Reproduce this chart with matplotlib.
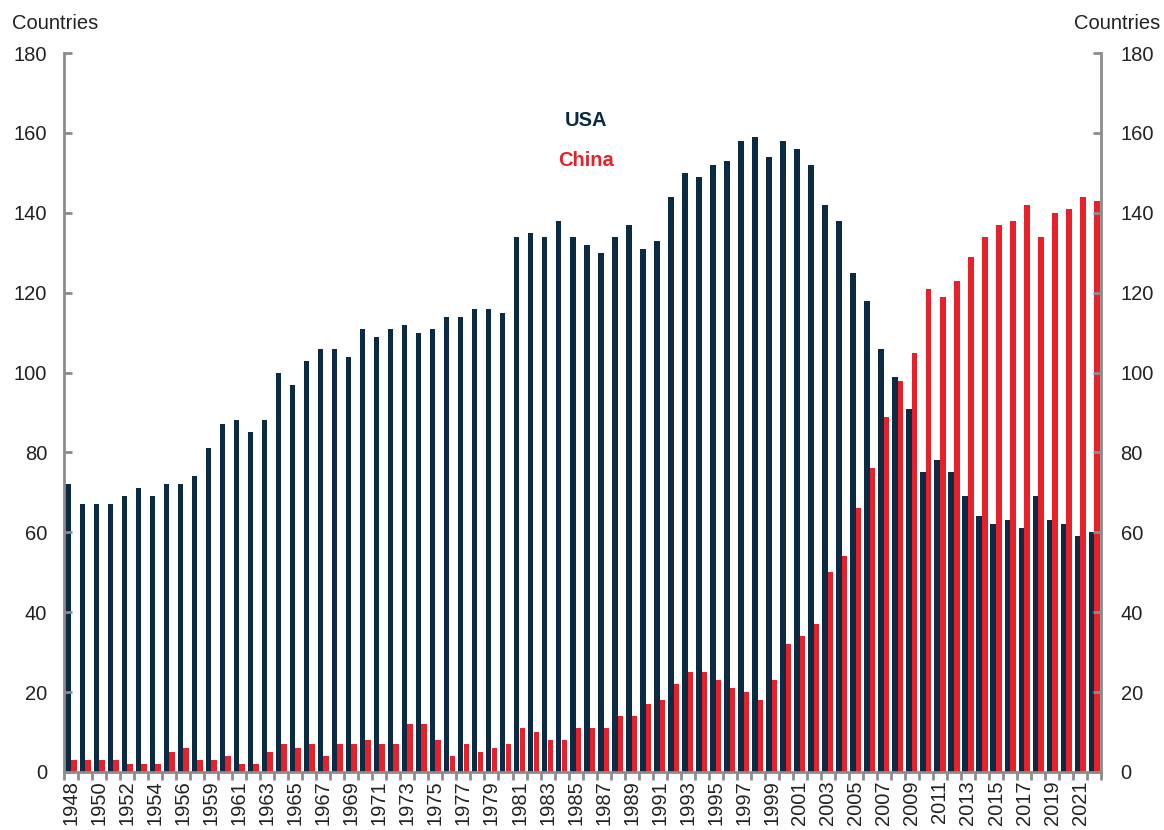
import numpy as np
import matplotlib
matplotlib.use("Agg")
import matplotlib.pyplot as plt

plt.rcParams['font.family'] = ['Liberation Sans', 'DejaVu Sans']

# Number of countries for which each is the largest trading partner
years = [1948, 1949, 1950, 1951, 1952, 1953, 1954, 1955, 1956, 1958] + list(range(1959, 2023))

usa = [72, 67, 67, 67, 69, 71, 69, 72, 72, 74,
       81, 87, 88, 85, 88, 100, 97, 103, 106, 106,
       104, 111, 109, 111, 112, 110, 111, 114, 114, 116,
       116, 115, 134, 135, 134, 138, 134, 132, 130, 134,
       137, 131, 133, 144, 150, 149, 152, 153, 158, 159,
       154, 158, 156, 152, 142, 138, 125, 118, 106, 99,
       91, 75, 78, 75, 69, 64, 62, 63, 61, 69,
       63, 62, 59, 60]

china = [3, 3, 3, 3, 2, 2, 2, 5, 6, 3,
         3, 4, 2, 2, 5, 7, 6, 7, 4, 7,
         7, 8, 7, 7, 12, 12, 8, 4, 7, 5,
         6, 7, 11, 10, 8, 8, 11, 11, 11, 14,
         14, 17, 18, 22, 25, 25, 23, 21, 20, 18,
         23, 32, 34, 37, 50, 54, 66, 76, 89, 98,
         105, 121, 119, 123, 129, 134, 137, 138, 142, 134,
         140, 141, 144, 143]

navy = '#0B2B45'
red = '#E8202A'
grey = '#8C8C8C'
txt = '#222222'
fs = 14.5

fig = plt.figure(figsize=(11.64, 8.30), dpi=100)
ax = fig.add_axes([0.055, 0.07, 0.891, 0.866])

x = np.arange(len(years))
w = 0.39
ax.bar(x - 0.2, usa, width=w, color=navy, edgecolor='none')
ax.bar(x + 0.2, china, width=w, color=red, edgecolor='none')

ax.set_xlim(-0.5, len(years) - 0.5)
ax.set_ylim(0, 180)
ax.set_yticks(range(0, 181, 20))

for s in ['top', 'right']:
    ax.spines[s].set_visible(False)
for s in ['left', 'bottom']:
    ax.spines[s].set_color(grey)
    ax.spines[s].set_linewidth(2)

ax.tick_params(axis='y', direction='in', length=6, width=2, color=grey,
               labelsize=fs, labelcolor=txt, pad=12)

# category boundary ticks + labels every other year
ax.set_xticks(x[::2])
ax.set_xticklabels([str(y) for y in years[::2]], rotation=90)
ax.set_xticks(np.arange(len(years) + 1) - 0.5, minor=True)
ax.tick_params(axis='x', which='major', length=0, labelsize=fs,
               labelcolor=txt, pad=6)
ax.tick_params(axis='x', which='minor', direction='out', length=6,
               width=2, color=grey)

ax2 = ax.twinx()
ax2.set_ylim(0, 180)
ax2.set_yticks(range(0, 181, 20))
for s in ['top', 'left', 'bottom']:
    ax2.spines[s].set_visible(False)
ax2.spines['right'].set_color(grey)
ax2.spines['right'].set_linewidth(2)
ax2.tick_params(axis='y', direction='in', length=6, width=2, color=grey,
                labelsize=fs, labelcolor=txt, pad=14)

fig.text(0.010, 0.972, 'Countries', fontsize=fs, color=txt, ha='left', va='center')
fig.text(0.997, 0.972, 'Countries', fontsize=fs, color=txt, ha='right', va='center')

ax.text(0.503, 0.906, 'USA', transform=ax.transAxes, fontsize=fs,
        fontweight='bold', color=navy, ha='center', va='center')
ax.text(0.503, 0.850, 'China', transform=ax.transAxes, fontsize=fs,
        fontweight='bold', color=red, ha='center', va='center')

fig.savefig('out.png', dpi=100)
